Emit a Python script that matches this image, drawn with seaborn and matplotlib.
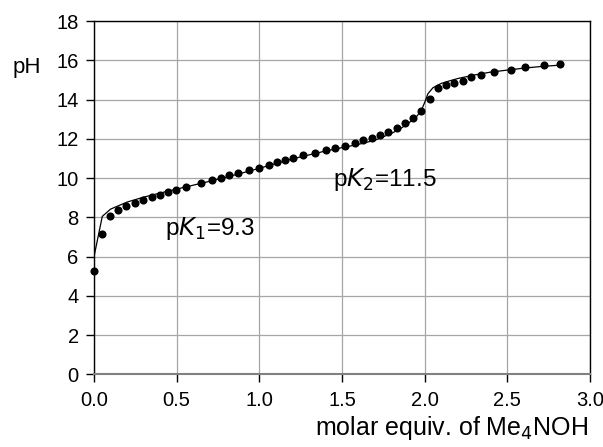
import matplotlib
matplotlib.use("Agg")
import matplotlib.pyplot as plt
import seaborn as sns
import pandas as pd

# measured titration points
equiv = [0.00, 0.048, 0.097, 0.147, 0.195, 0.248, 0.298, 0.349, 0.397, 0.447,
         0.496, 0.557, 0.645, 0.713, 0.766, 0.815, 0.874, 0.937, 0.995, 1.056,
         1.106, 1.155, 1.205, 1.264, 1.335, 1.404, 1.46, 1.52, 1.58, 1.63,
         1.68, 1.73, 1.78, 1.83, 1.88, 1.93, 1.98, 2.03, 2.08, 2.13,
         2.18, 2.23, 2.28, 2.34, 2.42, 2.52, 2.61, 2.72, 2.82]
ph = [5.25, 7.17, 8.07, 8.36, 8.56, 8.73, 8.89, 9.02, 9.16, 9.30,
      9.41, 9.57, 9.73, 9.89, 10.01, 10.14, 10.28, 10.40, 10.52, 10.67,
      10.81, 10.91, 11.03, 11.16, 11.28, 11.43, 11.54, 11.66, 11.80, 11.93,
      12.05, 12.20, 12.36, 12.56, 12.83, 13.08, 13.43, 14.04, 14.59, 14.74,
      14.82, 14.97, 15.13, 15.26, 15.40, 15.52, 15.64, 15.74, 15.81]

# fitted curve
fit_x = [0.0, 0.05, 0.1, 0.2, 0.3, 0.4, 0.5, 0.6, 0.7, 0.8, 0.9, 1.0, 1.1, 1.2,
         1.3, 1.4, 1.5, 1.6, 1.7, 1.8, 1.85, 1.9, 1.95, 1.98, 2.0, 2.02, 2.05,
         2.1, 2.15, 2.2, 2.3, 2.4, 2.5, 2.6, 2.7, 2.83]
fit_y = [6.0, 8.05, 8.42, 8.78, 9.03, 9.24, 9.44, 9.64, 9.84, 10.05, 10.27, 10.5,
         10.74, 10.98, 11.18, 11.38, 11.55, 11.72, 11.93, 12.28, 12.5, 12.78, 13.12,
         13.45, 13.85, 14.3, 14.6, 14.82, 14.95, 15.07, 15.25, 15.4, 15.5, 15.6,
         15.68, 15.76]

x_ticks = [0.0, 0.5, 1.0, 1.5, 2.0, 2.5, 3.0]
y_ticks = [0, 2, 4, 6, 8, 10, 12, 14, 16, 18]

sns.set_style("white")
plt.rcParams['font.family'] = ['Liberation Sans', 'DejaVu Sans']
plt.rcParams['text.color'] = 'black'
plt.rcParams['xtick.color'] = 'black'
plt.rcParams['ytick.color'] = 'black'
plt.rcParams['axes.labelcolor'] = 'black'

fig = plt.figure(figsize=(6.03, 4.47), dpi=100)
ax = fig.add_axes([0.1559, 0.1622, 0.8225, 0.7908])

pts = pd.DataFrame({"equiv": equiv, "pH": ph})
fit = pd.DataFrame({"equiv": fit_x, "pH": fit_y})

sns.lineplot(data=fit, x="equiv", y="pH", color="black", linewidth=0.9, ax=ax, zorder=3)
sns.scatterplot(data=pts, x="equiv", y="pH", color="black", s=34, edgecolor="black",
                linewidth=0, ax=ax, zorder=4, clip_on=False)

ax.set_xlim(0, 3.0)
ax.set_ylim(0, 18)
ax.set_xticks(x_ticks)
ax.set_xticklabels([f"{v:.1f}" for v in x_ticks])
ax.set_yticks(y_ticks)
ax.set_yticklabels([str(v) for v in y_ticks])
ax.grid(True, color="#a6a6a6", linewidth=0.9)
ax.set_axisbelow(True)

for s in ["left", "top", "right"]:
    ax.spines[s].set_color("black")
    ax.spines[s].set_linewidth(1.0)
ax.spines["bottom"].set_color("#808080")
ax.spines["bottom"].set_linewidth(1.5)

ax.tick_params(axis="both", direction="out", length=6, width=1.0, color="black",
               labelsize=14.5, labelcolor="black", left=True, bottom=True)
ax.tick_params(axis="x", pad=6)
ax.tick_params(axis="y", pad=5)

ax.set_xlabel("")
ax.set_ylabel("")
fig.text(0.976, 0.042, "molar equiv. of Me$_4$NOH", ha="right", va="center", fontsize=18)
fig.text(0.045, 0.848, "pH", ha="center", va="center", fontsize=16)

ax.text(0.43, 7.45, r"p$\it{K}$$_1$=9.3", ha="left", va="center", fontsize=17.5)
ax.text(1.446, 9.95, r"p$\it{K}$$_2$=11.5", ha="left", va="center", fontsize=17.5)

fig.savefig("out.png", dpi=100)
